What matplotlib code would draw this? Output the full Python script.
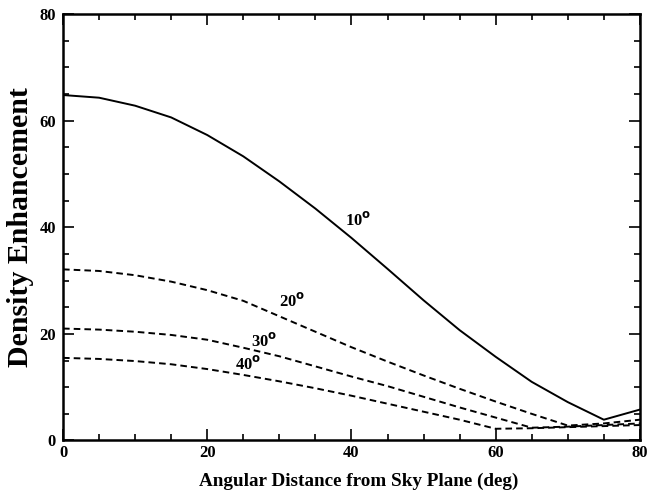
import numpy as np
import matplotlib
matplotlib.use("Agg")
import matplotlib.pyplot as plt
from matplotlib.ticker import MultipleLocator

plt.rcParams['font.family'] = ['Liberation Serif', 'DejaVu Serif']
plt.rcParams['font.weight'] = 'bold'

# angular distance from sky plane (deg)
angle = [0, 5, 10, 15, 20, 25, 30, 35, 40, 45, 50, 55, 60, 65, 70, 75, 80]

# density enhancement for each cone half-width
enh_10 = [64.8, 64.3, 62.8, 60.6, 57.3, 53.3, 48.6, 43.5, 38.0, 32.2, 26.3, 20.7, 15.7, 11.0, 7.2, 3.9, 5.8]
enh_20 = [32.1, 31.8, 31.0, 29.8, 28.2, 26.2, 23.3, 20.4, 17.5, 14.8, 12.2, 9.7, 7.3, 5.0, 2.8, 3.2, 3.9]
enh_30 = [21.0, 20.8, 20.4, 19.8, 18.9, 17.4, 15.8, 13.9, 12.0, 10.2, 8.2, 6.2, 4.3, 2.4, 2.6, 2.9, 3.2]
enh_40 = [15.5, 15.3, 14.9, 14.3, 13.4, 12.3, 11.1, 9.8, 8.4, 6.9, 5.4, 3.9, 2.2, 2.3, 2.5, 2.7, 2.9]

labels = ["10", "20", "30", "40"]
label_pos = [(39.1, 39.7), (29.9, 24.4), (26.1, 17.0), (23.9, 12.6)]

fig = plt.figure(figsize=[6.47, 4.93], dpi=100)
ax = fig.add_axes([0.0974, 0.1065, 0.8916, 0.8651])

dash = (0, (3.4, 2.1))
ax.plot(angle, enh_10, color="black", lw=1.4)
ax.plot(angle, enh_20, color="black", lw=1.4, linestyle=dash)
ax.plot(angle, enh_30, color="black", lw=1.4, linestyle=dash)
ax.plot(angle, enh_40, color="black", lw=1.4, linestyle=dash)

for lab, (x, y) in zip(labels, label_pos):
    ax.text(x, y, lab + r"$^{\mathrm{o}}$", fontsize=12, fontweight="bold", ha="left", va="bottom")

ax.set_xlim(0, 80)
ax.set_ylim(0, 80)
ax.xaxis.set_major_locator(MultipleLocator(20))
ax.xaxis.set_minor_locator(MultipleLocator(5))
ax.yaxis.set_major_locator(MultipleLocator(20))
ax.yaxis.set_minor_locator(MultipleLocator(5))
ax.tick_params(which="both", direction="in", top=True, right=True, width=1.2, labelsize=12)
ax.tick_params(which="major", length=8)
ax.tick_params(which="minor", length=4)
ax.tick_params(axis="x", pad=3.5)
ax.tick_params(axis="y", pad=5)
for s in ax.spines.values():
    s.set_linewidth(1.8)

ax.set_xlabel("Angular Distance from Sky Plane (deg)", fontsize=13.8, fontweight="bold", labelpad=8)
ax.xaxis.label.set_x(0.512)
ax.set_ylabel("Density Enhancement", fontsize=21.5, fontweight="bold", labelpad=4)

plt.savefig("out.png", dpi=100)
